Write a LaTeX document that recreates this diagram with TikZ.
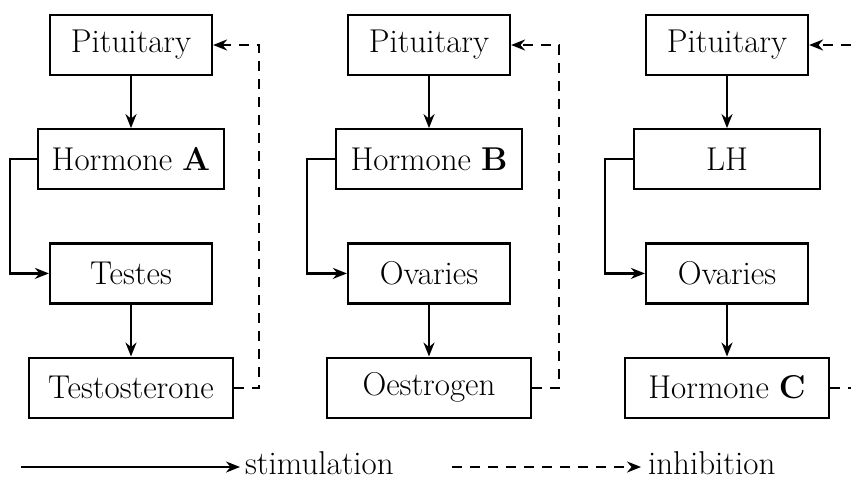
\documentclass[tikz,border=0pt]{standalone}
\usepackage{tikz}
\usetikzlibrary{positioning}
\usetikzlibrary{arrows,arrows.meta}

\begin{document}
\begin{tikzpicture}
	[x=0.5pt, y=-0.5pt, node distance={26pt}, line width=1.1pt, >={Stealth[length=7pt, width=5.5pt]},
	every node/.style = {font=\fontsize{16.5}{20}\selectfont},
	box/.style = {draw, minimum height=30pt, minimum width=81pt, inner xsep=4pt},
	midbox/.style = {box, minimum width=93pt},
	widebox/.style = {box, minimum width=102pt},
	stim/.style = {->},
	inhib/.style = {->, dash pattern=on 5pt off 4pt},
	legend/.style = {anchor=base west, inner sep=1pt}]
	\useasboundingbox (0,0) rectangle (851,479);
	\clip (0,0) rectangle (851,479);
	\node[box] (pit1) at (131,45) {Pituitary};
	\node[midbox] (horA) [below = of pit1] {Hormone \textbf{A}};
	\node[box] (testes) [below = of horA] {Testes};
	\node[widebox] (testo) [below = of testes] {Testosterone};
	\node[box] (pit2) at (429,45) {Pituitary};
	\node[midbox] (horB) [below = of pit2] {Hormone \textbf{B}};
	\node[box] (ovar2) [below = of horB] {Ovaries};
	\node[widebox] (oestr) [below = of ovar2] {Oestrogen};
	\node[box] (pit3) at (727,45) {Pituitary};
	\node[midbox] (lh) [below = of pit3] {LH};
	\node[box] (ovar3) [below = of lh] {Ovaries};
	\node[widebox] (horC) [below = of ovar3] {Hormone \textbf{C}};
	\draw[stim] (pit1) -- (horA);
	\draw[stim] (horA.west) -- ++(-13.5pt,0) |- (testes.west);
	\draw[stim] (testes) -- (testo);
	\draw[inhib] (testo.east) -- ++(12.5pt,0) |- (pit1.east);
	\draw[stim] (pit2) -- (horB);
	\draw[stim] (horB.west) -- ++(-14pt,0) |- (ovar2.west);
	\draw[stim] (ovar2) -- (oestr);
	\draw[inhib] (oestr.east) -- ++(13.5pt,0) |- (pit2.east);
	\draw[stim] (pit3) -- (lh);
	\draw[stim] (lh.west) -- ++(-14pt,0) |- (ovar3.west);
	\draw[stim] (ovar3) -- (horC);
	\draw[inhib] (horC.east) -- ++(14pt,0) |- (pit3.east);
	\coordinate (stimA) at (21,467);
	\coordinate (stimB) at (240,467);
	\node[legend] (stimtext) at (242,474) {stimulation};
	\draw[stim] (stimA) -- (stimB);
	\coordinate (inhA) at (452,467);
	\coordinate (inhB) at (641,467);
	\node[legend] (inhtext) at (645,474) {inhibition};
	\draw[inhib] (inhA) -- (inhB);
\end{tikzpicture}
\end{document}
